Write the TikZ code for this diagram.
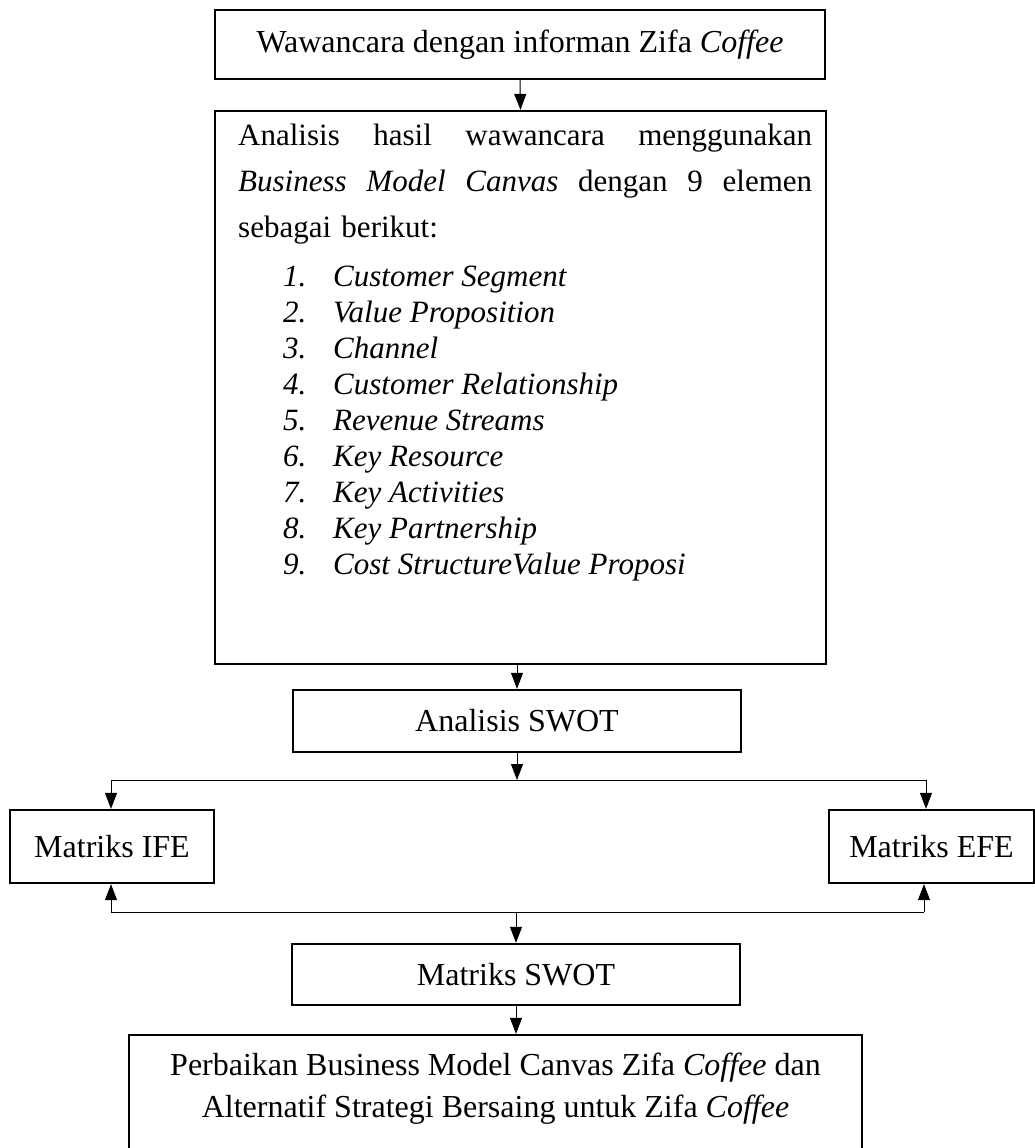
\documentclass[tikz,border=0pt]{standalone}
\usepackage{fontspec}
\setmainfont{Liberation Serif}
\usetikzlibrary{arrows.meta}
\begin{document}
\begin{tikzpicture}[x=1pt,y=-1pt,
  box/.style={draw, line width=2.3pt, rectangle, inner sep=0pt, align=center,
    font=\fontsize{32}{42}\selectfont},
  txt/.style={inner sep=0pt, font=\fontsize{31}{46}\selectfont},
  conn/.style={line width=1pt, -{Triangle[length=16pt,width=12pt]}},
  plain/.style={line width=1pt}]
\useasboundingbox (0,0) rectangle (1035,1148);
\clip (0,0) rectangle (1035,1148);

% boxes
\node[box, minimum width=610pt, minimum height=69pt] (top) at (520,44.5)
  {Wawancara dengan informan Zifa \textit{Coffee}};
\node[box, minimum width=611pt, minimum height=553pt] (bmc) at (520.5,387.5) {};
\node[box, minimum width=448pt, minimum height=62pt] (swot) at (517,721) {Analisis SWOT};
\node[box, minimum width=204pt, minimum height=73pt] (ife) at (112,846.5) {Matriks IFE};
\node[box, minimum width=205pt, minimum height=73pt] (efe) at (931.5,846.5) {Matriks EFE};
\node[box, minimum width=448pt, minimum height=61pt] (mswot) at (516,974.5) {Matriks SWOT};
\node[box, minimum width=733pt, minimum height=170pt] (final) at (495.5,1120) {};

% texts inside big box
\node[txt, anchor=north west, text width=574pt, align=left] (para) at (238,124)
  {\makebox[574pt][s]{Analisis\hfill hasil\hfill wawancara\hfill menggunakan}\\
   \makebox[574pt][s]{\textit{Business}\hfill\textit{Model}\hfill\textit{Canvas}\hfill dengan\hfill 9\hfill elemen}\\
   sebagai berikut:};
\node[txt, anchor=north west, align=left, font=\fontsize{31}{36}\selectfont\itshape] (list) at (283,266)
  {\makebox[50pt][l]{1.}Customer Segment\\
   \makebox[50pt][l]{2.}Value Proposition\\
   \makebox[50pt][l]{3.}Channel\\
   \makebox[50pt][l]{4.}Customer Relationship\\
   \makebox[50pt][l]{5.}Revenue Streams\\
   \makebox[50pt][l]{6.}Key Resource\\
   \makebox[50pt][l]{7.}Key Activities\\
   \makebox[50pt][l]{8.}Key Partnership\\
   \makebox[50pt][l]{9.}Cost StructureValue Proposi};

% text of the last box
\node[txt, align=center, font=\fontsize{32}{42}\selectfont] (finaltext) at (495.5,1089)
  {Perbaikan Business Model Canvas Zifa \textit{Coffee} dan\\
   Alternatif Strategi Bersaing untuk Zifa \textit{Coffee}};

% connectors
\draw[conn] (top.south) -- (bmc.north);
\draw[conn] (bmc.south -| swot.north) -- (swot.north);

\coordinate (bl) at (111,780);
\coordinate (br) at (926,780);
\draw[plain] (bl) -- (br);
\draw[conn] (swot.south) -- (swot.south |- bl);
\draw[conn] (bl) -- (bl |- ife.north);
\draw[conn] (br) -- (br |- efe.north);

\coordinate (bl2) at (111,912);
\coordinate (br2) at (924,912);
\draw[plain] (bl2) -- (br2);
\draw[conn] (bl2) -- (bl2 |- ife.south);
\draw[conn] (br2) -- (br2 |- efe.south);
\draw[conn] (mswot.north |- bl2) -- (mswot.north);
\draw[conn] (mswot.south) -- (mswot.south |- final.north);
\end{tikzpicture}
\end{document}
